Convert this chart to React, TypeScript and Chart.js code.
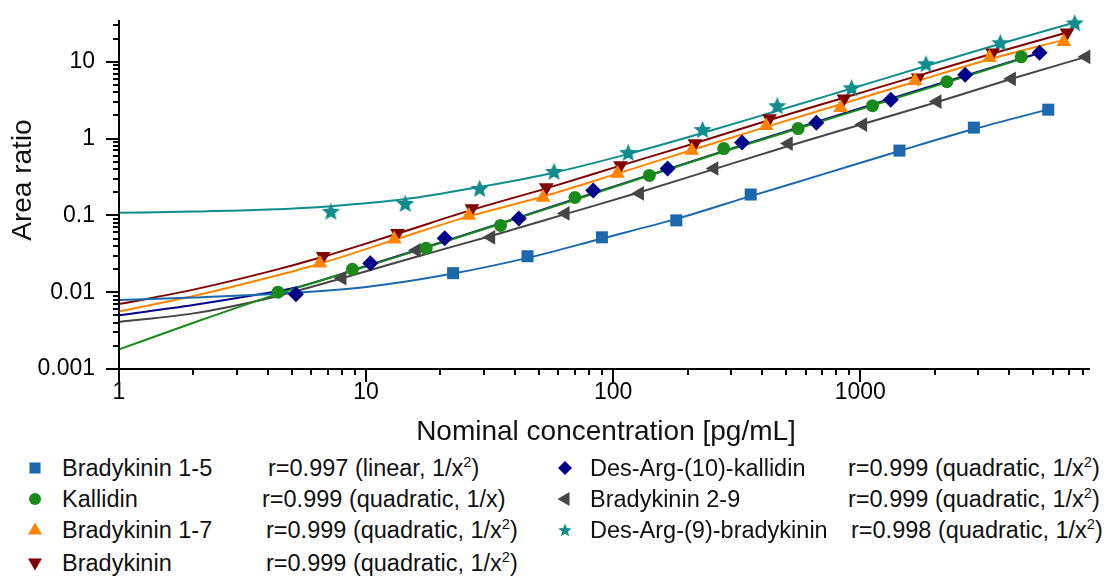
import React, { useEffect, useRef } from 'react';
import { Chart, registerables } from 'chart.js';

Chart.register(...registerables);

const FONT = "'Liberation Sans', Arial, Helvetica, sans-serif";

// ---- Bradykinin 1-5 ----
const bk15X = [22.5, 45, 90, 180, 360, 1440, 2880, 5760];
const bk15Y = [0.0177, 0.0294, 0.0518, 0.0861, 0.187, 0.698, 1.39, 2.38];
const bk15FitX = [1, 2, 4.5, 10, 22.5, 45, 90, 180, 360, 720, 1440, 2880, 5760];
const bk15FitY = [0.0079, 0.0085, 0.0096, 0.0117, 0.0175, 0.028, 0.05, 0.09, 0.178, 0.35, 0.69, 1.33, 2.4];

// ---- Kallidin ----
const kalX = [4.4, 8.8, 17.5, 35, 70, 140, 280, 560, 1120, 2240, 4480];
const kalY = [0.01, 0.0199, 0.0373, 0.0741, 0.171, 0.331, 0.741, 1.35, 2.68, 5.5, 11.6];
const kalFitX = [1, 2, 4.4, 8.8, 17.5, 35, 70, 140, 280, 560, 1120, 2240, 4480];
const kalFitY = [0.0018, 0.004, 0.0095, 0.019, 0.038, 0.078, 0.16, 0.33, 0.68, 1.35, 2.7, 5.4, 10.9];

// ---- Bradykinin 1-7 ----
const bk17X = [6.5, 13, 26, 52, 104, 208, 416, 832, 1664, 3328, 6656];
const bk17Y = [0.0238, 0.0488, 0.1, 0.171, 0.351, 0.698, 1.47, 2.53, 5.66, 11.3, 18.2];
const bk17FitX = [1, 2, 4, 6.5, 13, 26, 52, 104, 208, 416, 832, 1664, 3328, 6656];
const bk17FitY = [0.0056, 0.0089, 0.0154, 0.0235, 0.048, 0.097, 0.176, 0.35, 0.71, 1.42, 2.8, 5.5, 10.8, 19.3];

// ---- Bradykinin ----
const bkX = [6.7, 13.4, 26.8, 53.6, 107, 214, 429, 858, 1715, 3430, 6860];
const bkY = [0.0294, 0.0584, 0.123, 0.231, 0.446, 0.861, 1.82, 3.3, 6.2, 13.1, 23.8];
const bkFitX = [1, 2, 4, 6.7, 13.4, 26.8, 53.6, 107, 214, 429, 858, 1715, 3430, 6860];
const bkFitY = [0.007, 0.0108, 0.0184, 0.029, 0.058, 0.118, 0.225, 0.445, 0.87, 1.75, 3.4, 6.6, 12.8, 24];

// ---- Des-Arg-(10)-kallidin ----
const dakX = [5.2, 10.4, 20.8, 41.5, 83, 166, 332, 664, 1328, 2656, 5312];
const dakY = [0.0094, 0.0238, 0.0503, 0.0914, 0.211, 0.408, 0.887, 1.61, 3.21, 6.78, 13.1];
const dakFitX = [1, 2, 3.5, 5.2, 10.4, 20.8, 41.5, 83, 166, 332, 664, 1328, 2656, 5312];
const dakFitY = [0.005, 0.0068, 0.0091, 0.0115, 0.0228, 0.046, 0.094, 0.195, 0.4, 0.82, 1.65, 3.3, 6.6, 13];

// ---- Bradykinin 2-9 ----
const b29X = [8, 16, 32, 64, 128, 256, 512, 1024, 2048, 4096, 8192];
const b29Y = [0.0152, 0.0351, 0.0518, 0.106, 0.193, 0.408, 0.861, 1.52, 3.03, 6.01, 11.6];
const b29FitX = [1, 2, 4, 8, 16, 32, 64, 128, 256, 512, 1024, 2048, 4096, 8192];
const b29FitY = [0.0041, 0.0053, 0.0083, 0.0152, 0.029, 0.054, 0.104, 0.2, 0.4, 0.8, 1.55, 3.0, 6.0, 11.6];

// ---- Des-Arg-(9)-bradykinin ----
const da9X = [7.2, 14.4, 28.8, 57.6, 115, 230, 461, 922, 1843, 3686, 7373];
const da9Y = [0.113, 0.143, 0.224, 0.373, 0.658, 1.31, 2.68, 4.59, 9.42, 17.7, 32.1];
const da9FitX = [1, 2, 4, 7.2, 14.4, 28.8, 57.6, 115, 230, 461, 922, 1843, 3686, 7373];
const da9FitY = [0.108, 0.112, 0.119, 0.132, 0.163, 0.235, 0.36, 0.63, 1.18, 2.3, 4.5, 8.8, 17.2, 32.5];

// ---- Legend text ----
const seriesNames = [
  'Bradykinin 1-5',
  'Kallidin',
  'Bradykinin 1-7',
  'Bradykinin',
  'Des-Arg-(10)-kallidin',
  'Bradykinin 2-9',
  'Des-Arg-(9)-bradykinin',
];
const fitR = ['0.997', '0.999', '0.999', '0.999', '0.999', '0.999', '0.998'];
const fitModel = ['linear', 'quadratic', 'quadratic', 'quadratic', 'quadratic', 'quadratic', 'quadratic'];
const fitWeightSquared = [true, false, true, true, true, true, true];
const seriesColors = ['#1c68ad', '#1a8a1a', '#ff8400', '#800000', '#00008b', '#454545', '#0f8c8c'];

// ---- Axis ticks ----
const xTickValues = [1, 2, 3, 4, 5, 6, 7, 8, 9, 10, 20, 30, 40, 50, 60, 70, 80, 90, 100, 200, 300, 400, 500, 600, 700, 800, 900, 1000, 2000, 3000, 4000, 5000, 6000, 7000, 8000];
const xMajorValues = [1, 10, 100, 1000];
const xMajorLabels = ['1', '10', '100', '1000'];
const yTickValues = [0.001, 0.002, 0.003, 0.004, 0.005, 0.006, 0.007, 0.008, 0.009, 0.01, 0.02, 0.03, 0.04, 0.05, 0.06, 0.07, 0.08, 0.09, 0.1, 0.2, 0.3, 0.4, 0.5, 0.6, 0.7, 0.8, 0.9, 1, 2, 3, 4, 5, 6, 7, 8, 9, 10, 20, 30];
const yMajorValues = [0.001, 0.01, 0.1, 1, 10];
const yMajorLabels = ['0.001', '0.01', '0.1', '1', '10'];

const xMin = 1;
const xMax = 8500;
const yMin = 0.001;
const yMax = 35;

type Marker = 'square' | 'circle' | 'up' | 'down' | 'diamond' | 'left' | 'star';
const seriesMarkers: Marker[] = ['square', 'circle', 'up', 'down', 'diamond', 'left', 'star'];

const seriesPoints = [
  [bk15X, bk15Y],
  [kalX, kalY],
  [bk17X, bk17Y],
  [bkX, bkY],
  [dakX, dakY],
  [b29X, b29Y],
  [da9X, da9Y],
];
const seriesFits = [
  [bk15FitX, bk15FitY],
  [kalFitX, kalFitY],
  [bk17FitX, bk17FitY],
  [bkFitX, bkFitY],
  [dakFitX, dakFitY],
  [b29FitX, b29FitY],
  [da9FitX, da9FitY],
];

function makeStar(color: string, size: number): HTMLCanvasElement {
  const c = document.createElement('canvas');
  c.width = size;
  c.height = size;
  const ctx = c.getContext('2d')!;
  const cx = size / 2;
  const cy = size / 2 + 0.8;
  const R = size / 2;
  const r = R * 0.45;
  ctx.beginPath();
  for (let i = 0; i < 10; i++) {
    const ang = -Math.PI / 2 + (i * Math.PI) / 5;
    const rad = i % 2 === 0 ? R : r;
    ctx.lineTo(cx + rad * Math.cos(ang), cy + rad * Math.sin(ang));
  }
  ctx.closePath();
  ctx.fillStyle = color;
  ctx.fill();
  return c;
}

function pointStyleFor(m: Marker, color: string) {
  switch (m) {
    case 'square':
      return { pointStyle: 'rect', pointRadius: 8.5, pointRotation: 0 };
    case 'circle':
      return { pointStyle: 'circle', pointRadius: 6.5, pointRotation: 0 };
    case 'up':
      return { pointStyle: 'triangle', pointRadius: 8.5, pointRotation: 0 };
    case 'down':
      return { pointStyle: 'triangle', pointRadius: 8.5, pointRotation: 180 };
    case 'diamond':
      return { pointStyle: 'rectRot', pointRadius: 8, pointRotation: 0 };
    case 'left':
      return { pointStyle: 'triangle', pointRadius: 8.5, pointRotation: -90 };
    case 'star':
    default:
      return { pointStyle: makeStar(color, 19), pointRadius: 9, pointRotation: 0 };
  }
}

const axesPlugin = {
  id: 'axesTicks',
  afterDraw(chart: any) {
    const { ctx, chartArea } = chart;
    const xs = chart.scales.x;
    const ys = chart.scales.y;
    const { left, right, top, bottom } = chartArea;
    ctx.save();
    ctx.strokeStyle = '#000';
    ctx.lineWidth = 2;
    ctx.lineCap = 'butt';
    ctx.beginPath();
    ctx.moveTo(left, top);
    ctx.lineTo(left, bottom + 1);
    ctx.moveTo(left - 1, bottom);
    ctx.lineTo(right, bottom);
    for (const v of xTickValues) {
      const px = Math.round(xs.getPixelForValue(v));
      const len = xMajorValues.includes(v) ? 13 : 6;
      ctx.moveTo(px, bottom);
      ctx.lineTo(px, bottom + len);
    }
    for (const v of yTickValues) {
      const py = Math.round(ys.getPixelForValue(v));
      const len = yMajorValues.includes(v) ? 13 : 6;
      ctx.moveTo(left, py);
      ctx.lineTo(left - len, py);
    }
    ctx.stroke();
    ctx.restore();
  },
};

function MarkerIcon({ m, color }: { m: Marker; color: string }) {
  let shape: React.ReactNode = null;
  switch (m) {
    case 'square':
      shape = <rect x={-5.5} y={-5.5} width={11} height={11} fill={color} />;
      break;
    case 'circle':
      shape = <circle cx={0} cy={0} r={6} fill={color} />;
      break;
    case 'up':
      shape = <polygon points="0,-7.5 7,4.5 -7,4.5" fill={color} />;
      break;
    case 'down':
      shape = <polygon points="0,7.5 7,-4.5 -7,-4.5" fill={color} />;
      break;
    case 'diamond':
      shape = <polygon points="0,-7 7,0 0,7 -7,0" fill={color} />;
      break;
    case 'left':
      shape = <polygon points="-7.5,0 4.5,-7 4.5,7" fill={color} />;
      break;
    case 'star': {
      const pts: string[] = [];
      for (let i = 0; i < 10; i++) {
        const ang = -Math.PI / 2 + (i * Math.PI) / 5;
        const rad = i % 2 === 0 ? 7 : 3.1;
        pts.push(`${(rad * Math.cos(ang)).toFixed(2)},${(rad * Math.sin(ang) + 0.6).toFixed(2)}`);
      }
      shape = <polygon points={pts.join(' ')} fill={color} />;
      break;
    }
  }
  return (
    <svg width={18} height={18} viewBox="-9 -9 18 18" style={{ display: 'block' }}>
      {shape}
    </svg>
  );
}

const legendRowY = [468, 499, 530, 563];
const legendCols = [
  { markerX: 35, nameX: 62, rX: [268, 262, 266, 266], items: [0, 1, 2, 3] },
  { markerX: 565, nameX: 590, rX: [848, 848, 851], items: [4, 5, 6] },
];

const LEGEND_FONT = 23.5;
const LEGEND_LH = 28;
const TICK_FONT = 23;

export default function App() {
  const canvasRef = useRef<HTMLCanvasElement | null>(null);

  useEffect(() => {
    document.body.style.margin = '0';
    const canvas = canvasRef.current;
    if (!canvas) return;

    const datasets: any[] = [];
    seriesNames.forEach((name, i) => {
      const color = seriesColors[i];
      const [px, py] = seriesPoints[i];
      const ps = pointStyleFor(seriesMarkers[i], color);
      datasets.push({
        label: name,
        data: px.map((v, k) => ({ x: v, y: py[k] })),
        showLine: false,
        backgroundColor: color,
        borderColor: color,
        pointBackgroundColor: color,
        pointBorderColor: color,
        pointBorderWidth: 0,
        ...ps,
        order: 0,
        clip: false,
      });
    });
    seriesNames.forEach((name, i) => {
      const color = seriesColors[i];
      const [fx, fy] = seriesFits[i];
      datasets.push({
        label: name + ' fit',
        data: fx.map((v, k) => ({ x: v, y: fy[k] })),
        showLine: true,
        borderColor: color,
        backgroundColor: color,
        borderWidth: 2,
        pointRadius: 0,
        cubicInterpolationMode: 'monotone',
        fill: false,
        order: 1,
        clip: false,
      });
    });

    const chart = new Chart(canvas, {
      type: 'scatter',
      data: { datasets },
      plugins: [axesPlugin],
      options: {
        responsive: false,
        animation: false,
        events: [],
        layout: { padding: { top: 20, right: 17, left: 0, bottom: 0 } },
        plugins: {
          legend: { display: false },
          tooltip: { enabled: false },
          title: { display: false },
        },
        scales: {
          x: {
            type: 'logarithmic',
            min: xMin,
            max: xMax,
            grid: { display: false, drawTicks: false, tickLength: 0 },
            border: { display: false },
            afterBuildTicks: (scale: any) => {
              scale.ticks = xTickValues.map((v) => ({ value: v, major: xMajorValues.includes(v) }));
            },
            afterFit: (scale: any) => {
              scale.height = 81;
              scale.paddingLeft = 0;
              scale.paddingRight = 0;
              scale.paddingTop = 0;
              scale.paddingBottom = 0;
            },
            ticks: {
              autoSkip: false,
              maxRotation: 0,
              minRotation: 0,
              padding: 10,
              color: '#000',
              font: { family: FONT, size: TICK_FONT },
              callback: (v: any) => {
                const idx = xMajorValues.indexOf(Number(v));
                return idx >= 0 ? xMajorLabels[idx] : '';
              },
            },
          },
          y: {
            type: 'logarithmic',
            min: yMin,
            max: yMax,
            grid: { display: false, drawTicks: false, tickLength: 0 },
            border: { display: false },
            afterBuildTicks: (scale: any) => {
              scale.ticks = yTickValues.map((v) => ({ value: v, major: yMajorValues.includes(v) }));
            },
            afterFit: (scale: any) => {
              scale.width = 119;
              scale.paddingLeft = 0;
              scale.paddingRight = 0;
              scale.paddingTop = 0;
              scale.paddingBottom = 0;
            },
            ticks: {
              autoSkip: false,
              padding: 24,
              color: '#000',
              font: { family: FONT, size: TICK_FONT },
              callback: (v: any) => {
                const idx = yMajorValues.indexOf(Number(v));
                return idx >= 0 ? yMajorLabels[idx] : '';
              },
            },
          },
        },
      } as any,
    });

    return () => {
      chart.destroy();
    };
  }, []);

  const textStyle: React.CSSProperties = {
    position: 'absolute',
    fontFamily: FONT,
    fontSize: LEGEND_FONT,
    lineHeight: `${LEGEND_LH}px`,
    color: '#111',
    whiteSpace: 'nowrap',
  };

  return (
    <div style={{ position: 'relative', width: 1107, height: 576, background: '#fff', overflow: 'hidden' }}>
      <canvas ref={canvasRef} width={1107} height={450} style={{ position: 'absolute', left: 0, top: 0, display: 'block' }} />
      <div
        style={{
          position: 'absolute',
          left: 606,
          top: 431,
          transform: 'translate(-50%, -50%)',
          fontFamily: FONT,
          fontSize: 28,
          color: '#111',
          whiteSpace: 'nowrap',
        }}
      >
        Nominal concentration [pg/mL]
      </div>
      <div
        style={{
          position: 'absolute',
          left: 22,
          top: 180,
          transform: 'translate(-50%, -50%) rotate(-90deg)',
          fontFamily: FONT,
          fontSize: 28,
          color: '#111',
          whiteSpace: 'nowrap',
        }}
      >
        Area ratio
      </div>
      {legendCols.map((col, ci) =>
        col.items.map((si, ri) => {
          const cy = legendRowY[ri];
          return (
            <React.Fragment key={`${ci}-${ri}`}>
              <div style={{ position: 'absolute', left: col.markerX - 9, top: cy - 9 }}>
                <MarkerIcon m={seriesMarkers[si]} color={seriesColors[si]} />
              </div>
              <div style={{ ...textStyle, left: col.nameX, top: cy - LEGEND_LH / 2 }}>{seriesNames[si]}</div>
              <div style={{ ...textStyle, left: col.rX[ri], top: cy - LEGEND_LH / 2 }}>
                {`r=${fitR[si]} (${fitModel[si]}, 1/x`}
                {fitWeightSquared[si] ? (
                  <span style={{ fontSize: '0.62em', position: 'relative', top: '-0.6em' }}>2</span>
                ) : null}
                {')'}
              </div>
            </React.Fragment>
          );
        })
      )}
    </div>
  );
}
